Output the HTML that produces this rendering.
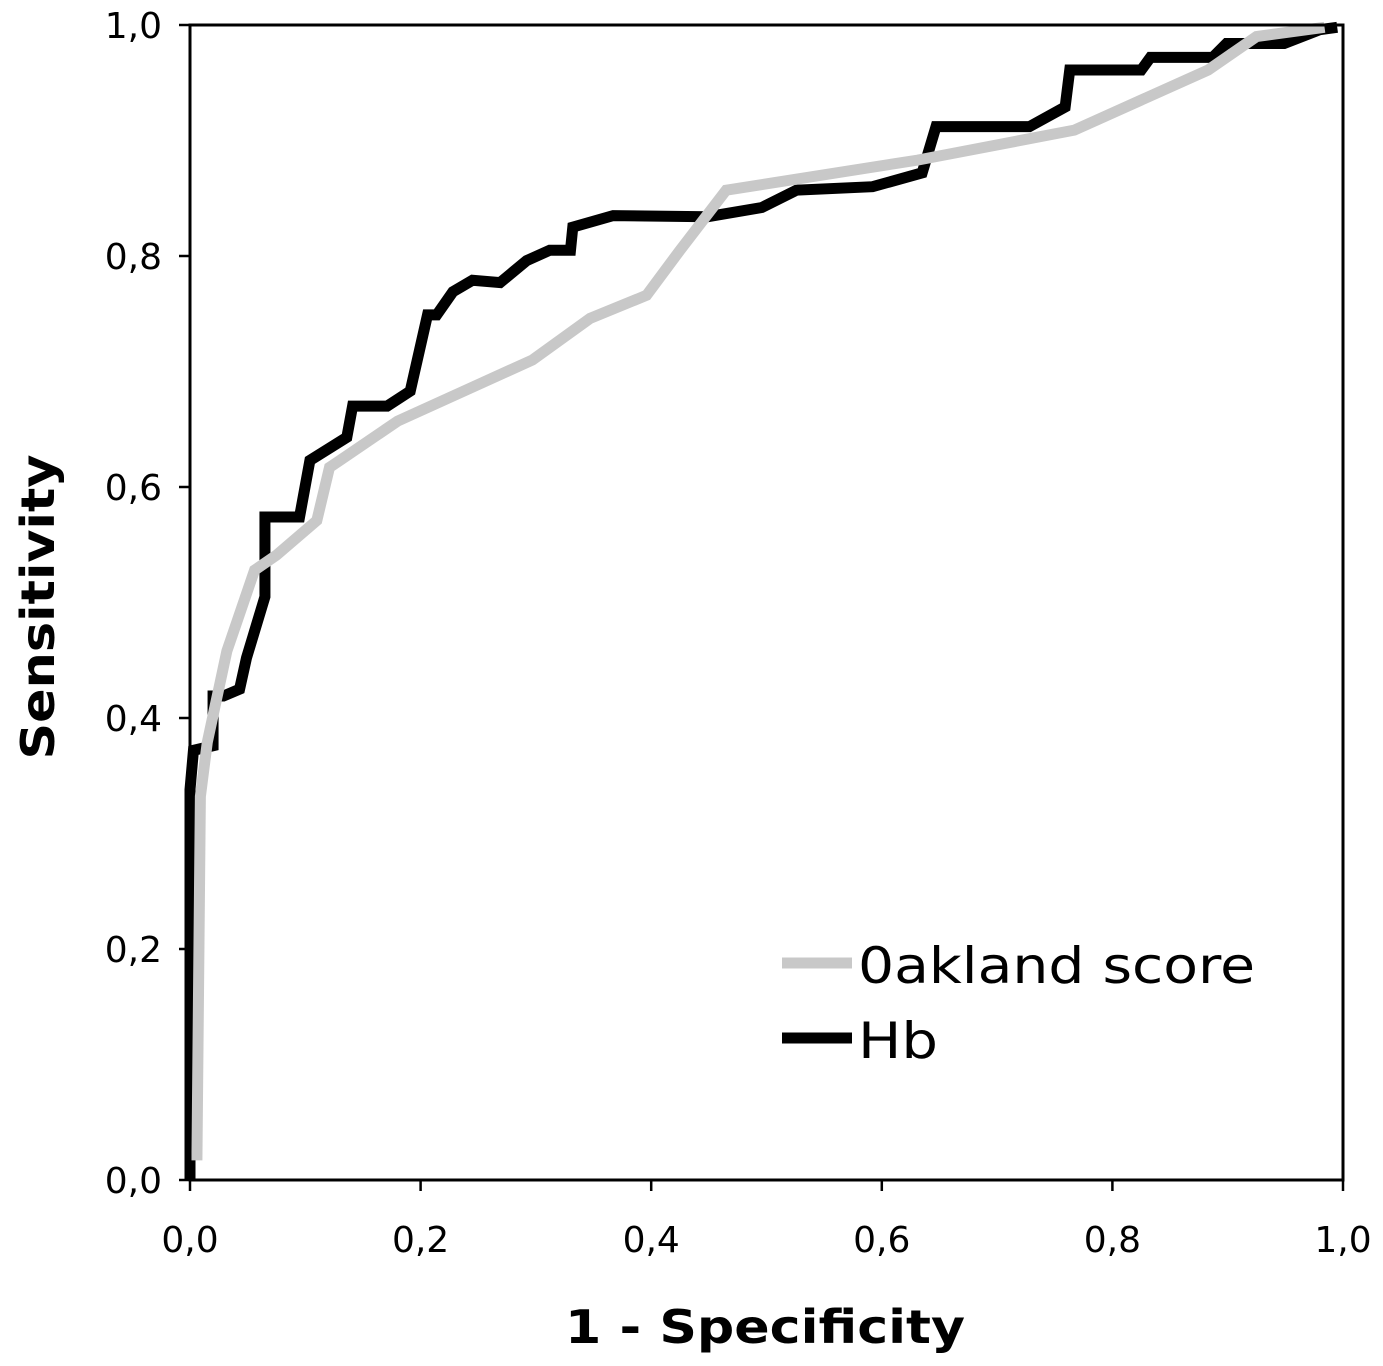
<!DOCTYPE html>
<html><head><meta charset="utf-8"><style>
html,body{margin:0;padding:0;background:#fff;}
svg{display:block;}
text{font-family:"DejaVu Sans","Liberation Sans",sans-serif;}
</style></head><body>
<svg id="chart" width="1383" height="1366" viewBox="0 0 1383 1366" xmlns="http://www.w3.org/2000/svg">
<g id="ticks"></g>
<g id="series"></g>
<rect x="190" y="25" width="1153" height="1155" fill="none" stroke="#000" stroke-width="3"/>
<text x="765" y="1343" font-size="46" font-weight="bold" text-anchor="middle" textLength="400" lengthAdjust="spacingAndGlyphs">1 - Specificity</text>
<text transform="translate(54,607) rotate(-90)" font-size="46" font-weight="bold" text-anchor="middle" textLength="305" lengthAdjust="spacingAndGlyphs">Sensitivity</text>
<g>
<line x1="782" y1="963" x2="852" y2="963" stroke="#c8c8c8" stroke-width="11"/>
<text x="858" y="983" font-size="50" textLength="397" lengthAdjust="spacingAndGlyphs">0akland score</text>
<line x1="782" y1="1038" x2="852" y2="1038" stroke="#000" stroke-width="11"/>
<text x="858" y="1058" font-size="50" textLength="80" lengthAdjust="spacingAndGlyphs">Hb</text>
</g>
</svg>
<script>
const tickValues=[0,0.2,0.4,0.6,0.8,1.0];
const tickLabels=["0,0","0,2","0,4","0,6","0,8","1,0"];
const hbX=[0,0,0.003,0.020,0.020,0.029,0.043,0.049,0.065,0.065,0.095,0.104,0.136,0.141,0.171,0.191,0.206,0.214,0.228,0.245,0.269,0.292,0.312,0.330,0.332,0.367,0.449,0.496,0.526,0.592,0.635,0.647,0.728,0.759,0.763,0.825,0.833,0.887,0.899,0.949,0.980,0.995];
const hbY=[0,0.338,0.372,0.376,0.419,0.419,0.425,0.452,0.505,0.574,0.574,0.623,0.643,0.670,0.670,0.683,0.749,0.749,0.769,0.779,0.777,0.796,0.805,0.805,0.825,0.835,0.834,0.842,0.857,0.860,0.872,0.912,0.912,0.929,0.961,0.961,0.972,0.972,0.984,0.984,0.996,0.998];
const oakX=[0.006,0.009,0.015,0.032,0.056,0.075,0.110,0.121,0.130,0.180,0.297,0.347,0.396,0.425,0.465,0.631,0.767,0.883,0.925,0.984];
const oakY=[0.017,0.332,0.379,0.458,0.528,0.541,0.571,0.617,0.623,0.657,0.710,0.746,0.766,0.805,0.857,0.883,0.909,0.961,0.990,0.998];
const NS="http://www.w3.org/2000/svg";
const X0=190,X1=1343,Y0=1180,Y1=25;
function sx(v){return X0+v*(X1-X0);}
function sy(v){return Y0-v*(Y0-Y1);}
const tg=document.getElementById('ticks');
tickValues.forEach((v,i)=>{
  let l=document.createElementNS(NS,'line');
  
  
  l.setAttribute('x1',sx(v));l.setAttribute('x2',sx(v));l.setAttribute('y1',Y0);l.setAttribute('y2',Y0+11);
  l.setAttribute('stroke','#000');l.setAttribute('stroke-width','2.5');tg.appendChild(l);
  let t=document.createElementNS(NS,'text');
  
  
  t.setAttribute('x',sx(v));t.setAttribute('y',Y0+72);t.setAttribute('font-size','36');t.setAttribute('text-anchor','middle');
  t.textContent=tickLabels[i];tg.appendChild(t);
  let l2=document.createElementNS(NS,'line');
  
  
  l2.setAttribute('x1',X0-11);l2.setAttribute('x2',X0);l2.setAttribute('y1',sy(v));l2.setAttribute('y2',sy(v));
  l2.setAttribute('stroke','#000');l2.setAttribute('stroke-width','2.5');tg.appendChild(l2);
  let t2=document.createElementNS(NS,'text');
  
  
  t2.setAttribute('x',X0-28);t2.setAttribute('y',sy(v)+13);t2.setAttribute('font-size','36');t2.setAttribute('text-anchor','end');
  t2.textContent=tickLabels[i];tg.appendChild(t2);
});
const sg=document.getElementById('series');
function line(xs,ys,color,name){
  let p=document.createElementNS(NS,'polyline');
  
  
  p.setAttribute('points',xs.map((x,i)=>sx(x)+','+sy(ys[i])).join(' '));
  p.setAttribute('fill','none');p.setAttribute('stroke',color);p.setAttribute('stroke-width','11');
  p.setAttribute('stroke-linejoin','miter');
  sg.appendChild(p);
}
line(hbX,hbY,'#000','hb-curve');
line(oakX,oakY,'#c8c8c8','oakland-curve');
</script>
</body></html>
